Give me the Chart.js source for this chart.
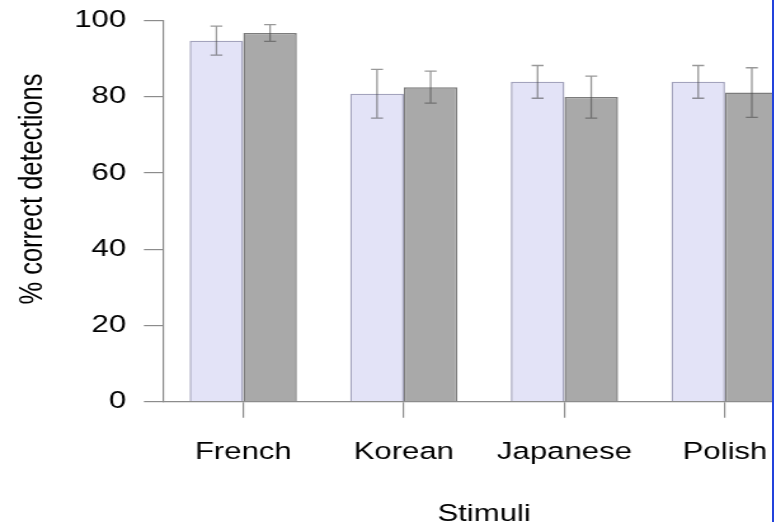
<!DOCTYPE html>
<html>
<head>
<meta charset="utf-8">
<script src="https://cdn.jsdelivr.net/npm/chart.js@4.4.1/dist/chart.umd.min.js"></script>
<style>
  html, body { margin: 0; padding: 0; background: #fff; overflow: hidden; width: 774px; height: 522px; }
  #wrap { position: absolute; left: 0; top: 0; width: 640px; height: 522px; transform: scaleX(1.27); transform-origin: 0 0; }
  #edge { position: fixed; left: 772px; top: 0; width: 2px; height: 522px; background: #2343dc; }
</style>
</head>
<body>
<div id="wrap"><canvas id="c" width="640" height="522"></canvas></div>
<div id="edge"></div>
<script>
// Stimulus languages on the x axis
const categories = ['French', 'Korean', 'Japanese', 'Polish'];
// Mean % correct detections, two listener groups
const groupAMeans = [94.7, 80.8, 83.9, 83.9];
const groupAErr = [3.8, 6.4, 4.3, 4.3];
const groupBMeans = [96.7, 82.5, 79.9, 81.1];
const groupBErr = [2.2, 4.2, 5.5, 6.5];
// Y axis ticks
const yTicks = [0, 20, 40, 60, 80, 100];
const yTitle = '% correct detections';

const FONT = "'Liberation Sans', Arial, Helvetica, sans-serif";
const AXIS_GREY = '#8c8c8c';

// Draws mean ± error whiskers on top of each bar
const errorBars = {
  id: 'errorBars',
  afterDatasetsDraw(chart) {
    const ctx = chart.ctx;
    const y = chart.scales.y;
    ctx.save();
    ctx.strokeStyle = 'rgba(70,70,70,0.55)';
    ctx.lineWidth = 1.3;
    chart.data.datasets.forEach((ds, di) => {
      const meta = chart.getDatasetMeta(di);
      meta.data.forEach((bar, i) => {
        const m = ds.data[i], e = ds.err[i];
        const yTop = y.getPixelForValue(m + e);
        const yBot = y.getPixelForValue(m - e);
        const cap = 4.7;
        ctx.beginPath();
        ctx.moveTo(bar.x, yTop); ctx.lineTo(bar.x, yBot);
        ctx.moveTo(bar.x - cap, yTop); ctx.lineTo(bar.x + cap, yTop);
        ctx.moveTo(bar.x - cap, yBot); ctx.lineTo(bar.x + cap, yBot);
        ctx.stroke();
      });
    });
    ctx.restore();
  }
};

// Rotated y-axis title, placed a little above the middle of the plot
const yAxisTitle = {
  id: 'yAxisTitle',
  afterDraw(chart) {
    const ctx = chart.ctx;
    const area = chart.chartArea;
    ctx.save();
    ctx.translate(25.5, (area.top + area.bottom) / 2 - 22);
    ctx.rotate(-Math.PI / 2);
    ctx.font = "25.5px " + FONT;
    ctx.fillStyle = '#000';
    ctx.textAlign = 'center';
    ctx.textBaseline = 'middle';
    ctx.fillText(yTitle, 0, 0);
    ctx.restore();
  }
};

new Chart(document.getElementById('c'), {
  type: 'bar',
  data: {
    labels: categories,
    datasets: [
      {
        data: groupAMeans, err: groupAErr,
        backgroundColor: '#e3e3f7', borderColor: '#a3a3bd', borderWidth: 1.5,
        categoryPercentage: 0.668, barPercentage: 1.0
      },
      {
        data: groupBMeans, err: groupBErr,
        backgroundColor: '#a9a9a9', borderColor: '#7c7c7c', borderWidth: 1.5,
        categoryPercentage: 0.668, barPercentage: 1.0
      }
    ]
  },
  options: {
    responsive: false,
    animation: false,
    devicePixelRatio: 1,
    layout: { padding: { top: 20.5, right: 5.9, bottom: 0, left: 0 } },
    plugins: { legend: { display: false }, tooltip: { enabled: false } },
    font: { family: FONT },
    scales: {
      x: {
        offset: true,
        grid: { offset: false, drawOnChartArea: false, drawTicks: true, tickLength: 16, color: AXIS_GREY, lineWidth: 1.2 },
        border: { display: true, color: AXIS_GREY, width: 1.2 },
        ticks: { color: '#000', font: { family: FONT, size: 24.5 }, padding: 20, maxRotation: 0, autoSkip: false },
        title: { display: true, text: 'Stimuli', color: '#000', font: { family: FONT, size: 24.5, lineHeight: 0.67 }, padding: { top: 0, bottom: 0 } },
        afterFit(scale) { scale.height = 120.3; }
      },
      y: {
        min: 0, max: 100,
        afterBuildTicks(scale) { scale.ticks = yTicks.map(v => ({ value: v })); },
        grid: { drawOnChartArea: false, drawTicks: true, tickLength: 15, color: AXIS_GREY, lineWidth: 1.2 },
        border: { display: true, color: AXIS_GREY, width: 1.2 },
        ticks: { color: '#000', font: { family: FONT, size: 24.5 }, padding: 14 },
        afterFit(scale) {
          scale.width = 128.3;
          scale.paddingTop = 0;
          scale.paddingBottom = 0;
        }
      }
    }
  },
  plugins: [errorBars, yAxisTitle]
});
</script>
</body>
</html>
